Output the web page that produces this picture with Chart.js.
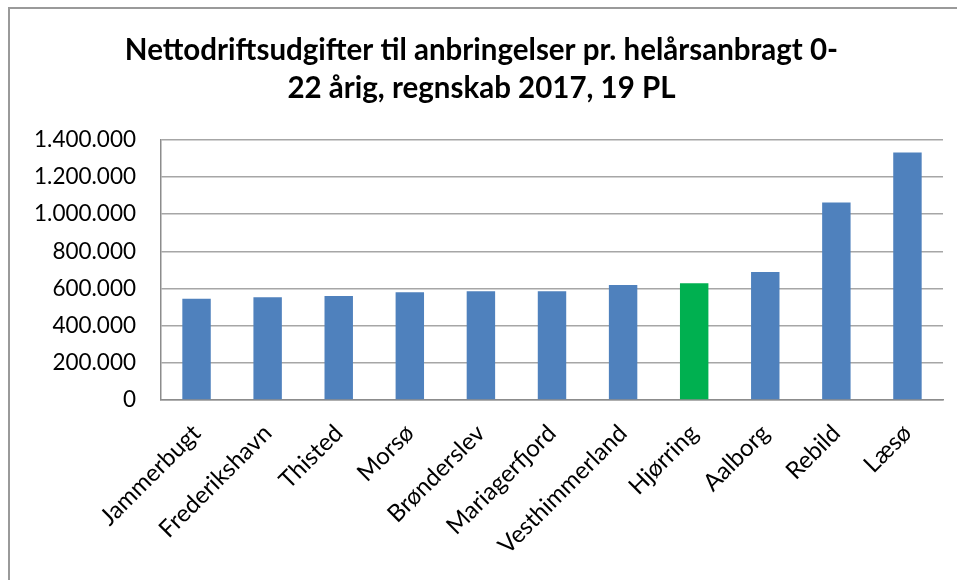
<!DOCTYPE html>
<html>
<head>
<meta charset="utf-8">
<script src="https://cdn.jsdelivr.net/npm/chart.js@4/dist/chart.umd.min.js"></script>
<style>
	html, body { margin: 0; padding: 0; background: #fff; }
	#wrap { position: relative; width: 957px; height: 580px; }
	#frame { position: absolute; left: 8px; top: 7px; right: 0; bottom: 0; border-left: 2px solid #9a9a9a; border-top: 2px solid #9a9a9a; }
	canvas { position: absolute; left: 0; top: 0; }
</style>
</head>
<body>
<div id="wrap">
	<div id="frame"></div>
	<canvas id="chart" width="957" height="580"></canvas>
</div>
<script>
const kommuner = ["Jammerbugt", "Frederikshavn", "Thisted", "Morsø", "Brønderslev", "Mariagerfjord", "Vesthimmerland", "Hjørring", "Aalborg", "Rebild", "Læsø"];
const udgifter = [544000, 552000, 560000, 579000, 585000, 585000, 619000, 628000, 689000, 1062000, 1331000];
const farver = ["#4f81bd", "#4f81bd", "#4f81bd", "#4f81bd", "#4f81bd", "#4f81bd", "#4f81bd", "#00b050", "#4f81bd", "#4f81bd", "#4f81bd"];
const titel = ["Nettodriftsudgifter til anbringelser pr. helårsanbragt 0-", "22 årig, regnskab 2017, 19 PL"];

const ctx = document.getElementById("chart").getContext("2d");
new Chart(ctx, {
	type: "bar",
	data: {
		labels: kommuner,
		datasets: [{
			data: udgifter,
			backgroundColor: farver,
			borderWidth: 0,
			categoryPercentage: 1,
			barPercentage: 0.4,
		}],
	},
	options: {
		responsive: false,
		animation: false,
		layout: { padding: { left: 20, right: 14, top: 8, bottom: 0 } },
		plugins: {
			legend: { display: false },
			tooltip: { enabled: false },
			title: {
				display: true,
				text: titel,
				color: "#000",
				font: { family: "Lato", size: 29.5, weight: "bold", lineHeight: 1.3 },
				padding: { top: 23, bottom: 32 },
			},
		},
		scales: {
			x: {
				grid: { display: false },
				border: { color: "#8c8c8c", width: 1.5 },
				ticks: {
					color: "#000",
					font: { family: "Lato", size: 24 },
					minRotation: 45,
					maxRotation: 45,
					padding: 11,
				},
				afterFit: function (scale) { scale.height = 180; },
			},
			y: {
				min: 0,
				max: 1400000,
				grid: { color: "#a6a6a6", lineWidth: 1.5, drawTicks: false },
				border: { color: "#8c8c8c", width: 1.5 },
				ticks: {
					stepSize: 200000,
					color: "#000",
					padding: 25,
					font: { family: "Lato", size: 22.5 },
					callback: function (v) { return v.toLocaleString("da-DK"); },
				},
				afterFit: function (scale) { scale.width = 141; },
			},
		},
	},
});
</script>
</body>
</html>
